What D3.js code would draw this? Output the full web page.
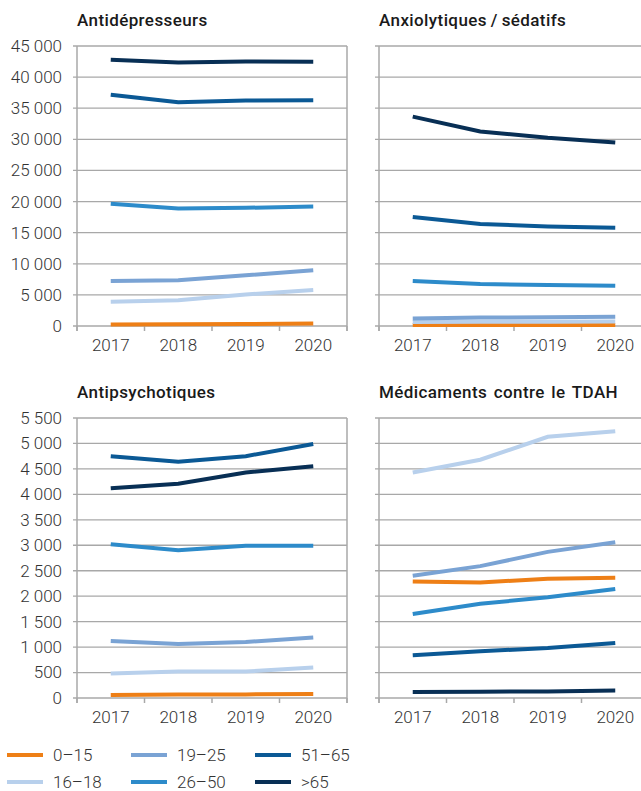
<!DOCTYPE html>
<html>
<head>
<meta charset="utf-8">
<script src="https://cdn.jsdelivr.net/npm/d3@7"></script>
<style>
  body { margin: 0; background: #fff; }
  svg { display: block; font-family: Roboto, "Noto Sans", sans-serif; }
  .tick text { fill: #333; font-weight: 300; }
</style>
</head>
<body>
<div id="chart"></div>
<script>
// data
const years = ["2017", "2018", "2019", "2020"];
const groups = ["0–15", "16–18", "19–25", "26–50", "51–65", ">65"];
const colors = ["#ee7f16", "#b8d0ec", "#7aa3d4", "#2d8bca", "#0b5995", "#082f55"];

const antidepresseurs = [
    [250, 300, 320, 400],
    [3900, 4150, 5050, 5800],
    [7250, 7350, 8150, 8950],
    [19650, 18900, 19000, 19200],
    [37150, 35950, 36250, 36300],
    [42800, 42350, 42500, 42450]
];
const anxiolytiques = [
    [150, 150, 160, 170],
    [650, 680, 700, 720],
    [1200, 1350, 1400, 1500],
    [7250, 6750, 6600, 6450],
    [17500, 16400, 16000, 15800],
    [33650, 31250, 30250, 29500]
];
const antipsychotiques = [
    [60, 70, 70, 80],
    [480, 520, 520, 600],
    [1120, 1060, 1100, 1190],
    [3020, 2900, 2990, 2990],
    [4750, 4640, 4750, 4990],
    [4120, 4210, 4430, 4550]
];
const tdah = [
    [2290, 2270, 2340, 2360],
    [4430, 4680, 5130, 5240],
    [2400, 2590, 2870, 3060],
    [1650, 1850, 1980, 2140],
    [840, 920, 980, 1080],
    [120, 125, 130, 145]
];

const panels = [
    { title: "Antidépresseurs", data: antidepresseurs, max: 45000, step: 5000, x: 77, y: 46, labels: true },
    { title: "Anxiolytiques\u2009/\u2009sédatifs", data: anxiolytiques, max: 45000, step: 5000, x: 379, y: 46, labels: false },
    { title: "Antipsychotiques", data: antipsychotiques, max: 5500, step: 500, x: 77, y: 418, labels: true },
    { title: "Médicaments contre le TDAH", data: tdah, max: 5500, step: 500, x: 379, y: 418, labels: false }
];

const width = 641, height = 791;
const plotW = 270, plotH = 280;
const gridColor = "#a8a8a8";

const fr = d3.formatLocale({ decimal: ",", thousands: " ", grouping: [3], currency: ["", " €"] });
const fmt = fr.format(",d");

const svg = d3.select("#chart").append("svg")
    .attr("width", width)
    .attr("height", height);

panels.forEach(function(p) {
    const g = svg.append("g").attr("transform", `translate(${p.x},${p.y})`);

    const x = d3.scaleBand().domain(years).range([0, plotW]);
    const y = d3.scaleLinear().domain([0, p.max]).range([plotH, 0]);
    const ticks = d3.range(0, p.max + 1, p.step);

    // gridlines
    g.append("g")
        .selectAll("line")
        .data(ticks)
        .join("line")
        .attr("x1", -4).attr("x2", plotW)
        .attr("y1", d => y(d)).attr("y2", d => y(d))
        .attr("stroke", gridColor)
        .attr("stroke-width", 1.3);

    // y labels
    if (p.labels) {
        g.append("g")
            .selectAll("text")
            .data(ticks)
            .join("text")
            .attr("x", -15)
            .attr("y", d => y(d))
            .attr("dy", "0.35em")
            .attr("text-anchor", "end")
            .attr("fill", "#333")
            .attr("font-size", 17)
            .attr("font-weight", 300)
            .text(d => fmt(d));
    }

    // frame
    g.append("line").attr("x1", 0).attr("x2", 0).attr("y1", 0).attr("y2", plotH + 5)
        .attr("stroke", gridColor).attr("stroke-width", 1.5);
    g.append("line").attr("x1", plotW).attr("x2", plotW).attr("y1", 0).attr("y2", plotH + 5)
        .attr("stroke", gridColor).attr("stroke-width", 1.5);

    // x axis
    const xAxis = g.append("g")
        .attr("transform", `translate(0,${plotH})`)
        .call(d3.axisBottom(x).tickSize(0).tickPadding(13));
    xAxis.select(".domain").remove();
    xAxis.selectAll("text").attr("font-size", 17).attr("font-family", "Roboto, sans-serif");
    g.append("g")
        .selectAll("line")
        .data(d3.range(0, 5))
        .join("line")
        .attr("x1", d => d * x.step()).attr("x2", d => d * x.step())
        .attr("y1", plotH).attr("y2", plotH + 5)
        .attr("stroke", gridColor).attr("stroke-width", 1.5);

    // title
    g.append("text")
        .attr("x", 0)
        .attr("y", -20)
        .attr("font-size", 17)
        .attr("font-weight", 500)
        .attr("letter-spacing", 0.4)
        .attr("word-spacing", 2)
        .attr("fill", "#1a1a1a")
        .text(p.title);

    // lines
    const line = d3.line()
        .x((d, i) => x(years[i]) + x.bandwidth() / 2)
        .y(d => y(d));
    g.append("g")
        .selectAll("path")
        .data(p.data)
        .join("path")
        .attr("fill", "none")
        .attr("stroke", (d, i) => colors[i])
        .attr("stroke-width", 4)
        .attr("d", line);
});

// legend
const legend = svg.append("g");
const legendItems = legend.selectAll("g")
    .data(groups)
    .join("g")
    .attr("transform", (d, i) => `translate(${7 + Math.floor(i / 2) * 124},${755 + (i % 2) * 27})`);
legendItems.append("line")
    .attr("x1", 0).attr("x2", 36)
    .attr("stroke", (d, i) => colors[i])
    .attr("stroke-width", 4);
legendItems.append("text")
    .attr("x", 46)
    .attr("dy", "0.35em")
    .attr("font-size", 17)
    .attr("font-weight", 300)
    .attr("fill", "#333")
    .text(d => d);
</script>
</body>
</html>
